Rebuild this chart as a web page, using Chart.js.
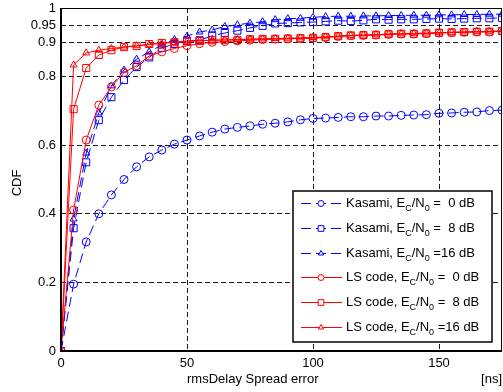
<!DOCTYPE html>
<html>
<head>
<meta charset="utf-8">
<script src="https://cdn.jsdelivr.net/npm/chart.js@4/dist/chart.umd.min.js"></script>
<style>
  html, body { margin: 0; padding: 0; background: #fff; }
</style>
</head>
<body>
<canvas id="cdfChart" width="503" height="392"></canvas>
<script>
// Data (x in ns, y = CDF)
const errorNs = [0, 5, 10, 15, 20, 25, 30, 35, 40, 45, 50, 55, 60, 65, 70, 75, 80, 85,
                 90, 95, 100, 105, 110, 115, 120, 125, 130, 135, 140, 145, 150, 155, 160, 165, 170, 175];

const kasami0 = [0, 0.195, 0.318, 0.40, 0.455, 0.50, 0.537, 0.566, 0.586, 0.603, 0.615, 0.627,
                 0.638, 0.647, 0.652, 0.656, 0.661, 0.664, 0.668, 0.674, 0.678, 0.679, 0.681, 0.683,
                 0.683, 0.685, 0.685, 0.687, 0.688, 0.689, 0.693, 0.694, 0.696, 0.697, 0.701, 0.702];
const kasami8 = [0, 0.358, 0.55, 0.673, 0.74, 0.79, 0.828, 0.856, 0.884, 0.895, 0.904, 0.906,
                 0.919, 0.927, 0.934, 0.942, 0.948, 0.955, 0.956, 0.958, 0.959, 0.961, 0.963, 0.962,
                 0.964, 0.967, 0.966, 0.967, 0.967, 0.968, 0.969, 0.968, 0.969, 0.970, 0.970, 0.971];
const kasami16 = [0, 0.385, 0.577, 0.694, 0.773, 0.819, 0.851, 0.872, 0.892, 0.908, 0.918, 0.930,
                  0.936, 0.946, 0.951, 0.956, 0.960, 0.966, 0.969, 0.970, 0.973, 0.975, 0.976, 0.976,
                  0.977, 0.977, 0.978, 0.978, 0.979, 0.979, 0.980, 0.980, 0.981, 0.981, 0.982, 0.982];
const ls0 = [0, 0.411, 0.615, 0.717, 0.770, 0.812, 0.832, 0.860, 0.872, 0.882, 0.890, 0.896,
             0.900, 0.902, 0.904, 0.906, 0.908, 0.909, 0.910, 0.911, 0.912, 0.914, 0.917, 0.919,
             0.920, 0.921, 0.923, 0.924, 0.924, 0.925, 0.927, 0.928, 0.929, 0.930, 0.930, 0.932];
const ls8 = [0, 0.705, 0.825, 0.863, 0.877, 0.886, 0.889, 0.895, 0.898, 0.900, 0.903, 0.904,
             0.906, 0.907, 0.907, 0.909, 0.910, 0.910, 0.911, 0.912, 0.913, 0.915, 0.918, 0.920,
             0.921, 0.922, 0.924, 0.925, 0.925, 0.926, 0.928, 0.929, 0.930, 0.931, 0.931, 0.933];
const ls16 = [0, 0.834, 0.869, 0.877, 0.882, 0.886, 0.890, 0.893, 0.897, 0.900, 0.903, 0.905,
              0.906, 0.907, 0.908, 0.909, 0.910, 0.911, 0.912, 0.913, 0.914, 0.916, 0.918, 0.920,
              0.921, 0.922, 0.924, 0.925, 0.926, 0.927, 0.928, 0.929, 0.930, 0.931, 0.932, 0.933];

const yTicks = [0, 0.2, 0.4, 0.6, 0.8, 0.9, 0.95, 1];
const xTicks = [0, 50, 100, 150];
const codeNames = ['Kasami', 'Kasami', 'Kasami', 'LS code', 'LS code', 'LS code'];
const snrText = ['  0', '  8', '16', '  0', '  8', '16'];

const FONT = '"Liberation Sans", Arial, Helvetica, sans-serif';
const BLUE = '#0000ff';
const RED = '#ff0000';

function makeSet(name, values, color, style, dashed, order) {
    return {
        label: name,
        data: values.map((v, i) => ({ x: errorNs[i], y: v })),
        borderColor: color,
        backgroundColor: 'rgba(0,0,0,0)',
        borderWidth: 1,
        borderDash: dashed ? [10, 5] : [],
        pointStyle: style,
        pointRadius: style === 'rect' ? 5 : 4,
        pointBorderWidth: 1,
        pointBorderColor: color,
        pointBackgroundColor: 'rgba(0,0,0,0)',
        tension: 0,
        order: order
    };
}

// draws "Name, E_C/N_0 = xx dB" with real subscripts
function drawLegendText(ctx, x, y, code, snr) {
    const parts = [
        [code + ', E', false], ['C', true], ['/N', false], ['0', true], [' =' + snr + ' dB', false]
    ];
    ctx.textBaseline = 'middle';
    ctx.textAlign = 'left';
    parts.forEach(([t, sub]) => {
        ctx.font = (sub ? '9px ' : '13px ') + FONT;
        ctx.fillText(t, x, sub ? y + 5 : y);
        x += ctx.measureText(t).width;
    });
}

const framePlugin = {
    id: 'frame',
    afterDatasetsDraw(chart) {
        const { ctx, chartArea: a } = chart;
        ctx.save();
        ctx.setLineDash([]);
        ctx.strokeStyle = '#000';
        ctx.lineWidth = 1;
        ctx.strokeRect(a.left, a.top + 0.5, a.right - a.left - 0.5, a.bottom - a.top);
        ctx.lineWidth = 2;
        ctx.beginPath();
        ctx.moveTo(a.left, a.top);
        ctx.lineTo(a.left, a.bottom);
        ctx.lineTo(a.right, a.bottom);
        ctx.stroke();

        // legend box
        const lw = 199, lh = 151;
        const lx = a.right - 10 - lw, ly = a.bottom - 9 - lh;
        ctx.fillStyle = '#fff';
        ctx.fillRect(lx, ly, lw, lh);
        ctx.lineWidth = 1.5;
        ctx.strokeRect(lx, ly, lw, lh);

        chart.data.datasets.forEach((ds, i) => {
            const y = Math.round(ly + 12 + i * 24.8) + 0.5;
            ctx.strokeStyle = ds.borderColor;
            ctx.lineWidth = 1;
            ctx.setLineDash(ds.borderDash);
            ctx.beginPath();
            ctx.moveTo(lx + 8, y);
            ctx.lineTo(lx + 49, y);
            ctx.stroke();
            ctx.setLineDash([]);
            ctx.strokeStyle = ds.borderColor;
            ctx.fillStyle = '#fff';
            Chart.helpers.drawPoint(ctx, { pointStyle: ds.pointStyle, radius: ds.pointStyle === 'rect' ? 4 : 3, rotation: 0, borderWidth: 1 }, lx + 28, y);
            ctx.fillStyle = '#000';
            drawLegendText(ctx, lx + 53, y, codeNames[i], snrText[i]);
        });

        // axis titles
        ctx.fillStyle = '#000';
        ctx.font = '13px ' + FONT;
        ctx.textBaseline = 'middle';
        ctx.textAlign = 'left';
        ctx.fillText('rmsDelay Spread error', 187, 379);
        ctx.textAlign = 'right';
        ctx.fillText('[ns]', 502, 379);
        ctx.translate(17, 183);
        ctx.rotate(-Math.PI / 2);
        ctx.textAlign = 'center';
        ctx.fillText('CDF', 0, 0);
        ctx.restore();
    }
};

const gridStyle = edge => ({
    color: c => (c.tick && c.tick.value === edge ? 'rgba(0,0,0,0)' : '#1a1a1a'),
    lineWidth: 1,
    drawTicks: false
});

new Chart(document.getElementById('cdfChart').getContext('2d'), {
    type: 'line',
    data: {
        datasets: [
            makeSet('Kasami 0 dB', kasami0, BLUE, 'circle', true, 2),
            makeSet('Kasami 8 dB', kasami8, BLUE, 'rect', true, 2),
            makeSet('Kasami 16 dB', kasami16, BLUE, 'triangle', true, 2),
            makeSet('LS code 0 dB', ls0, RED, 'circle', false, 1),
            makeSet('LS code 8 dB', ls8, RED, 'rect', false, 1),
            makeSet('LS code 16 dB', ls16, RED, 'triangle', false, 1)
        ]
    },
    options: {
        responsive: false,
        animation: false,
        layout: { autoPadding: false, padding: { left: 0, top: 8, right: 1, bottom: 0 } },
        plugins: { legend: { display: false }, tooltip: { enabled: false } },
        scales: {
            x: {
                type: 'linear',
                min: 0,
                max: 175,
                afterBuildTicks: s => { s.ticks = xTicks.map(v => ({ value: v })); },
                afterFit: s => { s.height = 41; s.paddingLeft = 0; s.paddingRight = 0; },
                grid: gridStyle(0),
                border: { display: false, dash: [5, 3] },
                ticks: { color: '#000', padding: 5, maxRotation: 0, font: { family: FONT, size: 13 } }
            },
            y: {
                min: 0,
                max: 1,
                afterBuildTicks: s => { s.ticks = yTicks.map(v => ({ value: v })); },
                afterFit: s => { s.width = 61; s.paddingTop = 0; s.paddingBottom = 0; },
                grid: gridStyle(1),
                border: { display: false, dash: [5, 3] },
                ticks: { color: '#000', padding: 5, font: { family: FONT, size: 13 }, callback: v => String(v) }
            }
        }
    },
    plugins: [framePlugin]
});
</script>
</body>
</html>
